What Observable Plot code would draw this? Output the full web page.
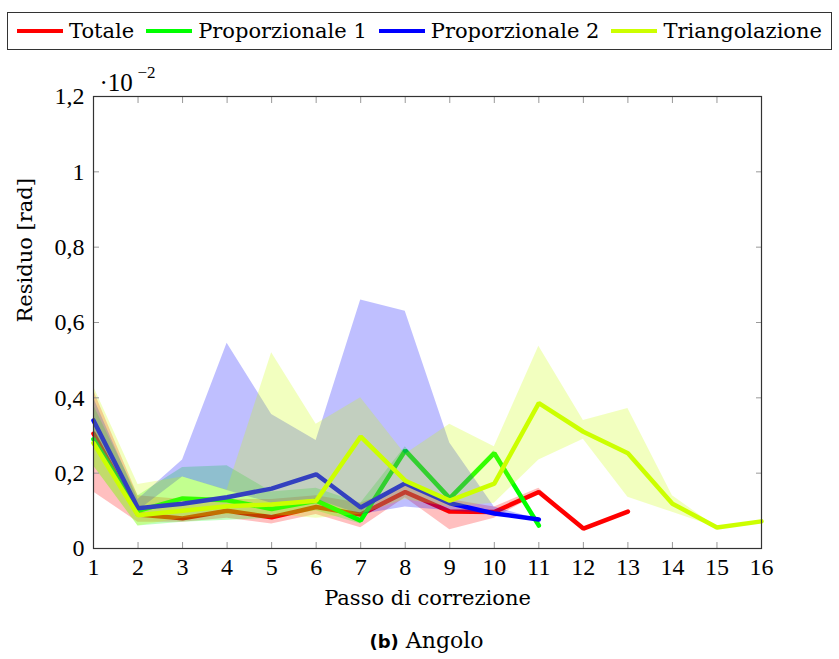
<!DOCTYPE html>
<html><head><meta charset="utf-8">
<script src="https://cdn.jsdelivr.net/npm/d3@7"></script>
<script src="https://cdn.jsdelivr.net/npm/@observablehq/plot@0.6"></script>
<style>
body{margin:0;background:#fff;width:839px;font-family:"DejaVu Serif",serif;color:#000}
#legend{position:relative;height:62px}
#legend .box{position:absolute;left:7px;top:12px;width:825px;height:38px;box-sizing:border-box;border:1px solid #333;display:flex;align-items:center;justify-content:space-between;padding:0 9px;font-size:21px}
.item{display:flex;align-items:center}
.sw{width:46px;height:4px;margin-right:6px}
#chart svg{display:block}
#caption{height:37px;text-align:center;font-size:22px;line-height:37px;padding-left:14px}
#caption b{font-family:"DejaVu Sans",sans-serif;font-size:18px}
</style></head><body>
<div id="legend"><div class="box"></div></div>
<div id="chart"></div>
<div id="caption"><b>(b)</b> Angolo</div>
<script>
const seriesNames = ["Totale", "Proporzionale 1", "Proporzionale 2", "Triangolazione"];
const seriesColors = ["#ff0000", "#00ff00", "#0000ff", "#ccff00"];

const totale   = [0.305, 0.09, 0.08, 0.10, 0.083, 0.11, 0.09, 0.15, 0.098, 0.097, 0.15, 0.053, 0.098];
const totaleLo = [0.15, 0.07, 0.07, 0.08, 0.065, 0.09, 0.055, 0.135, 0.05, 0.08, 0.145, 0.053, 0.098];
const totaleHi = [0.42, 0.14, 0.13, 0.13, 0.13, 0.14, 0.12, 0.165, 0.13, 0.11, 0.16, 0.053, 0.098];

const prop1   = [0.29, 0.10, 0.133, 0.128, 0.105, 0.127, 0.074, 0.26, 0.133, 0.253, 0.061];
const prop1Lo = [0.22, 0.06, 0.07, 0.075, 0.08, 0.10, 0.065, 0.25, 0.125, 0.245, 0.06];
const prop1Hi = [0.38, 0.14, 0.215, 0.22, 0.15, 0.16, 0.12, 0.27, 0.14, 0.26, 0.065];

const prop2   = [0.34, 0.107, 0.119, 0.136, 0.159, 0.197, 0.109, 0.173, 0.12, 0.093, 0.077];
const prop2Lo = [0.27, 0.10, 0.19, 0.154, 0.12, 0.13, 0.09, 0.11, 0.10, 0.09, 0.077];
const prop2Hi = [0.40, 0.13, 0.235, 0.545, 0.356, 0.287, 0.66, 0.63, 0.28, 0.11, 0.077];

const tri   = [0.28, 0.088, 0.10, 0.112, 0.117, 0.127, 0.297, 0.18, 0.127, 0.172, 0.386, 0.31, 0.253, 0.119, 0.056, 0.072];
const triLo = [0.22, 0.06, 0.08, 0.09, 0.09, 0.08, 0.09, 0.13, 0.11, 0.12, 0.235, 0.29, 0.136, 0.096, 0.056, 0.072];
const triHi = [0.43, 0.17, 0.19, 0.155, 0.52, 0.33, 0.40, 0.25, 0.33, 0.27, 0.537, 0.34, 0.372, 0.14, 0.056, 0.072];

const xTicks = [1,2,3,4,5,6,7,8,9,10,11,12,13,14,15,16];
const yTicks = [0, 0.2, 0.4, 0.6, 0.8, 1, 1.2];
const yTickLabels = ["0", "0,2", "0,4", "0,6", "0,8", "1", "1,2"];

const allSeries = [
  [totale, totaleLo, totaleHi],
  [prop1, prop1Lo, prop1Hi],
  [prop2, prop2Lo, prop2Hi],
  [tri, triLo, triHi]
];

// legend
const box = document.querySelector("#legend .box");
seriesNames.forEach((n, i) => {
  const it = document.createElement("div");
  it.className = "item";
  it.innerHTML = `<span class="sw" style="background:${seriesColors[i]}"></span><span>${n}</span>`;
  box.appendChild(it);
});

const marks = [];
allSeries.forEach(([m, lo, hi], i) => {
  const rows = m.map((v, j) => ({x: j + 1, y: v, lo: lo[j], hi: hi[j]}));
  marks.push(Plot.areaY(rows, {x: "x", y1: "lo", y2: "hi", fill: seriesColors[i], fillOpacity: 0.25}));
  marks.push(Plot.lineY(rows, {x: "x", y: "y", stroke: seriesColors[i], strokeWidth: 4.5, strokeLinejoin: "miter"}));
});

const tickFont = "Liberation Serif, serif";

const chart = Plot.plot({
  width: 839,
  height: 560,
  marginTop: 34,
  marginBottom: 74,
  marginLeft: 93,
  marginRight: 78,
  style: {fontFamily: "DejaVu Serif, serif", fontSize: "20px", color: "#000", background: "#fff"},
  x: {domain: [1, 16]},
  y: {domain: [0, 1.2]},
  marks: [
    ...marks,
    Plot.axisX({anchor: "bottom", ticks: xTicks, tickSize: -6, text: null, stroke: "#999", label: null}),
    Plot.axisX({anchor: "top", ticks: xTicks, tickSize: -6, text: null, stroke: "#999", label: null}),
    Plot.axisY({anchor: "left", ticks: yTicks, tickSize: -6, text: null, stroke: "#999", label: null}),
    Plot.axisY({anchor: "right", ticks: yTicks, tickSize: -6, text: null, stroke: "#999", label: null}),
    Plot.axisX({anchor: "bottom", ticks: xTicks, tickSize: 0, tickPadding: 9, label: null, fontSize: 24, fontFamily: tickFont}),
    Plot.axisY({anchor: "left", ticks: yTicks, tickSize: 0, tickPadding: 9, label: null, fontSize: 24, fontFamily: tickFont,
      tickFormat: d => yTickLabels[yTicks.indexOf(d)]}),
    Plot.frame({stroke: "#333", strokeWidth: 1.2}),
    Plot.text(["Passo di correzione"], {frameAnchor: "bottom", dy: 56, fontSize: 21}),
    Plot.text(["Residuo [rad]"], {frameAnchor: "left", rotate: -90, dx: -68, fontSize: 21}),
    Plot.text(["·10"], {frameAnchor: "top-left", dx: 6, dy: -23, textAnchor: "start", fontSize: 25, fontFamily: tickFont}),
    Plot.text(["−2"], {frameAnchor: "top-left", dx: 44, dy: -31, textAnchor: "start", fontSize: 17, fontFamily: tickFont})
  ]
});
document.getElementById("chart").appendChild(chart);
</script>
</body></html>
